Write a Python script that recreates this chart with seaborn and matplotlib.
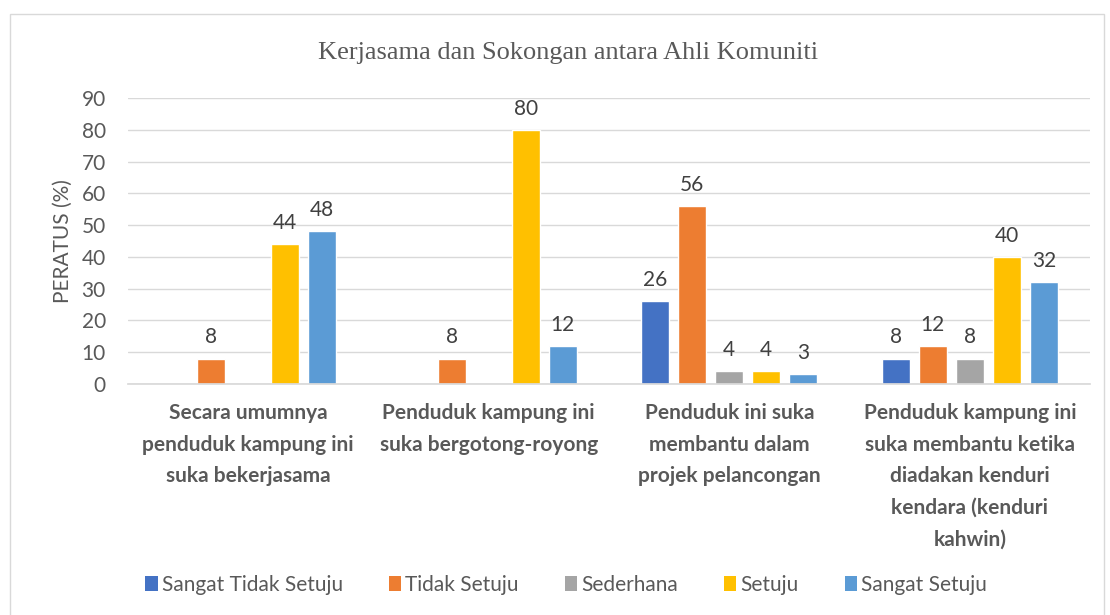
import numpy as np
import pandas as pd
import seaborn as sns
import matplotlib
matplotlib.use("Agg")
import matplotlib.pyplot as plt
from matplotlib.patches import Rectangle, Patch

categories = [
    "Secara umumnya\npenduduk kampung ini\nsuka bekerjasama",
    "Penduduk kampung ini\nsuka bergotong-royong",
    "Penduduk ini suka\nmembantu dalam\nprojek pelancongan",
    "Penduduk kampung ini\nsuka membantu ketika\ndiadakan kenduri\nkendara (kenduri\nkahwin)",
]
series_names = ["Sangat Tidak Setuju", "Tidak Setuju", "Sederhana", "Setuju", "Sangat Setuju"]
sangat_tidak_setuju = [np.nan, np.nan, 26, 8]
tidak_setuju = [8, 8, 56, 12]
sederhana = [np.nan, np.nan, 4, 8]
setuju = [44, 80, 4, 40]
sangat_setuju = [48, 12, 3, 32]
colors = ["#4472C4", "#ED7D31", "#A5A5A5", "#FFC000", "#5B9BD5"]

values = [sangat_tidak_setuju, tidak_setuju, sederhana, setuju, sangat_setuju]
rows = []
for name, vals in zip(series_names, values):
    for cat, v in zip(categories, vals):
        rows.append({"cat": cat, "series": name, "value": v})
df = pd.DataFrame(rows)

sns.set_theme(style="white")
plt.rcParams["font.family"] = ["Lato", "DejaVu Sans"]
text_color = "#595959"

fig = plt.figure(figsize=(11.1, 6.15), dpi=100)
ax = fig.add_axes([0.1153, 0.3756, 0.8667, 0.4651])

sns.barplot(data=df, x="cat", y="value", hue="series", order=categories,
            hue_order=series_names, palette=colors, width=0.77, gap=0.24,
            ax=ax, legend=False, saturation=1)

for cont in ax.containers:
    labels = []
    for bar in cont:
        h = bar.get_height()
        labels.append("" if (h is None or np.isnan(h)) else f"{h:g}")
    ax.bar_label(cont, labels=labels, padding=8, fontsize=15, color="#404040")

ax.set_ylim(0, 90)
ax.set_yticks(range(0, 91, 10))
ax.yaxis.grid(True, color="#D9D9D9", linewidth=1)
ax.set_axisbelow(True)
for s in ["top", "right", "left"]:
    ax.spines[s].set_visible(False)
ax.spines["bottom"].set_color("#D9D9D9")
ax.tick_params(axis="y", length=0, labelsize=15, labelcolor=text_color, pad=16)
ax.tick_params(axis="x", length=0, pad=14)
ax.set_xticks(range(len(categories)))
ax.set_xticklabels(categories, fontsize=15, fontweight="bold", color=text_color,
                   linespacing=1.72)
ax.set_xlabel("")
ax.set_ylabel("PERATUS (%)", fontsize=15, color=text_color, labelpad=6)

fig.text(0.512, 0.914, "Kerjasama dan Sokongan antara Ahli Komuniti",
         ha="center", va="center", fontsize=19, color=text_color,
         family="Liberation Serif")

handles = [Patch(facecolor=c, edgecolor="none") for c in colors]
fig.legend(handles, series_names, loc="center", bbox_to_anchor=(0.51, 0.049),
           ncol=5, frameon=False, fontsize=15, labelcolor=text_color,
           handlelength=0.6, handleheight=0.7, handletextpad=0.2, columnspacing=2.2)

fig.patches.append(Rectangle((10 / 1110, -0.01), 1094 / 1110, 1 - 14 / 615 + 0.01,
                             transform=fig.transFigure, fill=False,
                             edgecolor="#D9D9D9", linewidth=1))

fig.savefig("out.png", dpi=100, facecolor="white")
